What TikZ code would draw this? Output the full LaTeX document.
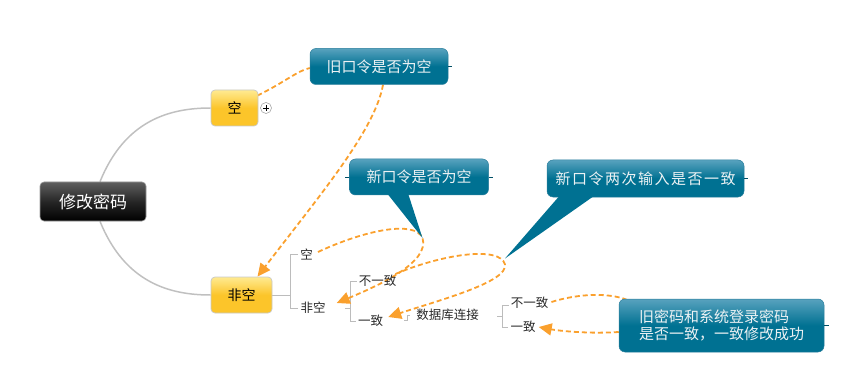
\documentclass[tikz,border=0pt]{standalone}
\usepackage{fontspec}
\setmainfont{Noto Sans CJK SC}
\usetikzlibrary{arrows.meta,calc}
\pgfdeclarelayer{bg}
\pgfsetlayers{bg,main}
\definecolor{orng}{RGB}{250,160,45}
\definecolor{calT}{RGB}{88,162,190}
\definecolor{calB}{RGB}{0,113,146}
\definecolor{calE}{RGB}{40,125,155}
\definecolor{calTx}{RGB}{236,242,244}
\definecolor{yelT}{RGB}{255,234,145}
\definecolor{yelB}{RGB}{252,197,42}
\definecolor{boxg}{RGB}{200,200,200}
\definecolor{lineg}{RGB}{192,192,192}
\definecolor{brkg}{RGB}{188,188,188}
\definecolor{lblc}{RGB}{40,40,40}
\definecolor{rootT}{RGB}{95,95,95}
\begin{document}
\begin{tikzpicture}[x=1pt,y=-1pt,
  rootbox/.style={draw=gray!80, line width=0.6pt, rounded corners=4pt, top color=rootT, bottom color=black, middle color=black!85, inner sep=0pt, text=white, font=\fontsize{17}{17}\selectfont},
  yel/.style={draw=boxg, line width=0.7pt, rounded corners=4pt, top color=yelT, bottom color=yelB, middle color=yelB, minimum height=36pt, inner sep=0pt, text=black, font=\fontsize{14}{14}\selectfont},
  callout/.style={draw=calE, line width=0.5pt, rounded corners=6pt, top color=calT, bottom color=calB, middle color=calB, inner sep=0pt, text=calTx, font=\fontsize{15}{17}\selectfont},
  lbl/.style={inner sep=1pt, text=lblc, font=\fontsize{12.5}{12.5}\selectfont},
  gline/.style={draw=lineg, line width=1.5pt},
  brk/.style={draw=brkg, line width=0.9pt},
  rel/.style={draw=orng, line width=1.8pt, dash pattern=on 5pt off 3pt},
  relarr/.style={rel, -{Triangle[length=13pt,width=12pt]}},
  ptr/.style={fill=calB},
  ctick/.style={draw=calB!70!black, line width=0.7pt}
]
\useasboundingbox (0,0) rectangle (864,390);

% main topics
\node[rootbox, minimum width=106pt, minimum height=39pt] (root) at (93,201.5) {修改密码};
\node[yel, minimum width=47pt] (kong) at (234.5,108) {空};
\node[yel, minimum width=61pt] (feikong) at (241.5,295) {非空};
\node[circle, draw=gray!80, fill=white, line width=0.5pt, minimum size=11pt, inner sep=0pt] (plus) at (266,108) {};
\draw[line width=0.9pt] ($(plus.center)+(-3,0)$) -- ($(plus.center)+(3,0)$);
\draw[line width=0.9pt] ($(plus.center)+(0,-3)$) -- ($(plus.center)+(0,3)$);

% tree labels
\node[lbl] (lkong) at (306.5,254) {空};
\node[lbl] (lfk) at (313,308) {非空};
\node[lbl] (lbyz1) at (377.5,281) {不一致};
\node[lbl] (lyz1) at (370.5,321) {一致};
\node[lbl] (ldb) at (447.5,314.5) {数据库连接};
\node[lbl] (lbyz2) at (529.5,303) {不一致};
\node[lbl] (lyz2) at (523,327) {一致};

% callouts
\node[callout, minimum width=138pt, minimum height=36pt] (c1) at (379,66.5) {旧口令是否为空};
\node[callout, minimum width=139pt, minimum height=36pt] (c2) at (419,177) {新口令是否为空};
\node[callout, minimum width=197pt, minimum height=37pt] (c3) at (645.5,178.5) {\addfontfeature{LetterSpace=10}新口令两次输入是否一致};
\node[callout, minimum width=205pt, minimum height=53pt, align=left] (c4) at (721.5,325.5) {旧密码和系统登录密码\\是否一致，一致修改成功};

\coordinate (tipA) at (422.5,238);
\coordinate (tipB) at (505,258.5);
\coordinate (b1) at (290,0);
\coordinate (b2) at (350,0);
\coordinate (b4) at (502,0);

% callout pointers
\fill[ptr] ([xshift=-32pt,yshift=2pt]c2.south) -- (tipA) -- ([xshift=-11pt,yshift=2pt]c2.south) -- cycle;
\fill[ptr] ([xshift=-85.5pt,yshift=2pt]c3.south) -- (tipB) -- ([xshift=-50.5pt,yshift=2pt]c3.south) -- cycle;

% callout ticks
\draw[ctick] (c1.east) -- ++(4,0);
\draw[ctick] (c2.west) -- ++(-4,0);
\draw[ctick] (c2.east) -- ++(4,0);
\draw[ctick] (c3.east) -- ++(4,0);
\draw[ctick] (c4.east) -- ++(5,0);

\begin{pgfonlayer}{bg}
% main branches
\draw[gline] ([xshift=7pt]root.north) .. controls (125,120) and (170,108) .. (kong.west);
\draw[gline] ([xshift=7pt]root.south) .. controls (125,283) and (170,295) .. (feikong.west);

% brackets
\draw[brk] (feikong.east) -- (feikong.east -| b1);
\draw[brk] ([xshift=-1pt]lkong.west) -- (lkong.west -| b1) -- (lfk.west -| b1) -- ([xshift=-1pt]lfk.west);
\draw[brk] ($(lfk.east -| b2)+(-5,0)$) -- (lfk.east -| b2);
\draw[brk] ([xshift=-1pt]lbyz1.west) -- (lbyz1.west -| b2) -- (lyz1.west -| b2) -- ([xshift=-1pt]lyz1.west);
\draw[brk] ($(ldb.west)+(-11,5.5)$) -- ($(ldb.west)+(-8,5.5)$) -- ($(ldb.west)+(-8,0.5)$) -- ($(ldb.west)+(-5,0.5)$);
\draw[brk] ($(ldb.east -| b4)+(-5,1.5)$) -- ($(ldb.east -| b4)+(0,1.5)$);
\draw[brk] ($(lbyz2.west)+(-1,2)$) -- ($(lbyz2.west -| b4)+(0,2)$) -- ($(lyz2.west -| b4)+(0,0)$) -- ([xshift=-1pt]lyz2.west);

% relationships
\draw[rel] ([xshift=-1pt,yshift=-6pt]kong.north east) .. controls (285,82) and (297,71) .. ([yshift=-1.5pt]c1.west);
\draw[relarr] ([xshift=4pt]c1.south) .. controls (375,130) and (320,195) .. ([xshift=16pt]feikong.north);
\draw[relarr] ([xshift=4pt,yshift=2pt]lkong.east) .. controls (365,230) and (415,220) .. (tipA) .. controls (430,262) and (380,285) .. ([xshift=10pt,yshift=5pt]lfk.east);
\draw[relarr] ([xshift=-2pt,yshift=7pt]lbyz1.east) .. controls (440,255) and (500,245) .. ([yshift=-6pt]tipB) .. controls (508,282) and (440,300) .. ([xshift=4pt,yshift=4pt]lyz1.east);
\draw[rel] ([xshift=2pt,yshift=1pt]lbyz2.east) .. controls (580,293) and (610,293) .. ([xshift=8pt,yshift=-1pt]c4.north west);
\draw[relarr] ([yshift=-6.5pt]c4.west) .. controls (590,334) and (560,331) .. ([xshift=2pt,yshift=0pt]lyz2.east);
\end{pgfonlayer}
\end{tikzpicture}
\end{document}
